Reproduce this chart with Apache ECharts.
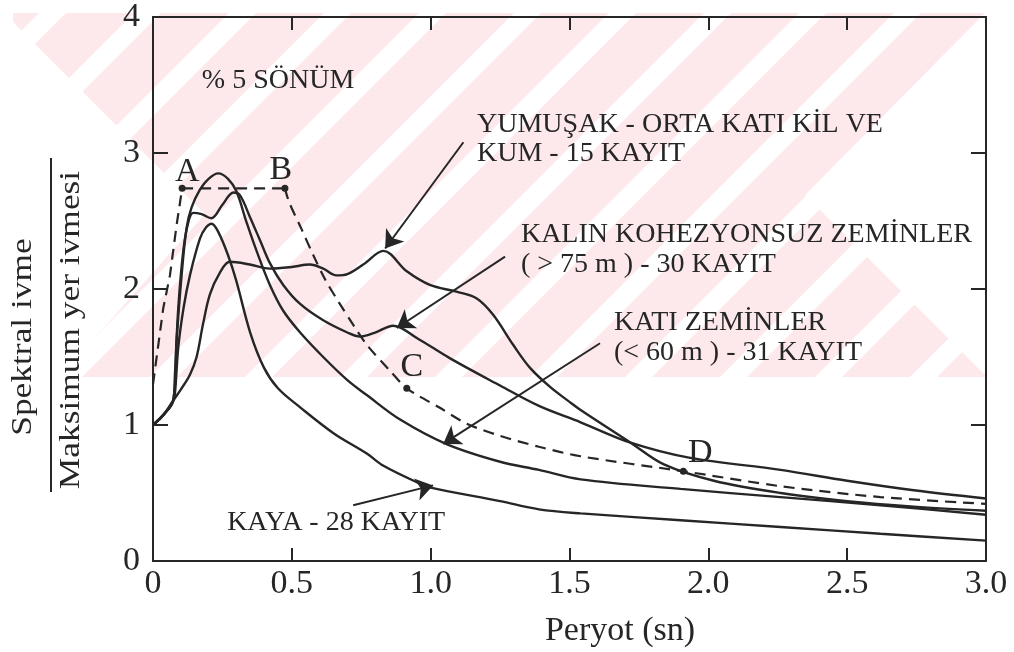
<!DOCTYPE html>
<html lang="tr">
<head>
<meta charset="utf-8">
<title>Normalize ivme spektrumları</title>
<script src="https://cdn.jsdelivr.net/npm/echarts@6/dist/echarts.min.js"></script>
<style>
  html, body { margin: 0; padding: 0; background: #fff; }
  #chart { width: 1014px; height: 652px; }
</style>
</head>
<body>
<div id="chart"></div>
<script>
// Periyot (sn) - normalize spektral ivme çiftleri, her zemin sınıfı için ayrı dizi
const kayaCurve = [[0,1.0],[0.04,1.08],[0.073,1.18],[0.079,1.23],[0.091,1.57],[0.11,1.86],[0.133,2.10],[0.169,2.37],[0.19,2.45],[0.211,2.48],[0.235,2.42],[0.27,2.25],[0.30,2.06],[0.35,1.68],[0.40,1.42],[0.45,1.27],[0.53,1.13],[0.65,0.94],[0.77,0.79],[0.83,0.70],[0.96,0.57],[1.0,0.54],[1.25,0.44],[1.39,0.38],[1.54,0.35],[1.9,0.30],[2.26,0.25],[2.62,0.20],[3.0,0.15]];
const katiCurve = [[0,1.0],[0.04,1.08],[0.073,1.18],[0.085,1.62],[0.103,2.10],[0.121,2.45],[0.139,2.60],[0.169,2.73],[0.20,2.81],[0.235,2.85],[0.27,2.81],[0.30,2.72],[0.337,2.49],[0.373,2.28],[0.421,2.03],[0.469,1.84],[0.53,1.68],[0.613,1.50],[0.70,1.33],[0.77,1.22],[0.89,1.04],[1.057,0.86],[1.25,0.73],[1.39,0.67],[1.54,0.60],[1.9,0.53],[2.26,0.47],[2.62,0.41],[3.0,0.34]];
const kalinCurve = [[0,1.0],[0.04,1.08],[0.073,1.18],[0.079,1.37],[0.091,1.86],[0.109,2.28],[0.127,2.49],[0.145,2.56],[0.175,2.55],[0.21,2.52],[0.25,2.62],[0.29,2.71],[0.313,2.69],[0.349,2.53],[0.385,2.36],[0.421,2.19],[0.469,2.03],[0.53,1.89],[0.613,1.77],[0.70,1.68],[0.745,1.65],[0.80,1.68],[0.865,1.73],[0.95,1.64],[1.07,1.49],[1.25,1.29],[1.39,1.14],[1.54,1.02],[1.72,0.87],[1.93,0.76],[2.26,0.67],[2.5,0.59],[2.74,0.52],[3.0,0.46]];
const yumusakCurve = [[0,1.0],[0.04,1.08],[0.073,1.18],[0.10,1.26],[0.133,1.37],[0.157,1.50],[0.18,1.74],[0.205,1.96],[0.241,2.12],[0.277,2.20],[0.349,2.18],[0.421,2.15],[0.493,2.16],[0.565,2.18],[0.613,2.15],[0.66,2.10],[0.70,2.11],[0.757,2.18],[0.83,2.28],[0.914,2.13],[0.997,2.03],[1.093,1.98],[1.166,1.93],[1.225,1.81],[1.297,1.59],[1.358,1.42],[1.43,1.28],[1.50,1.17],[1.54,1.11],[1.72,0.87],[1.84,0.71],[2.02,0.59],[2.26,0.50],[2.5,0.44],[2.74,0.40],[3.0,0.37]];

// Kesikli tasarım eğrisi: yükselen kol + A-B platosu, ardından B-C-D azalan kol
const tasarimRise = [[0,1.3],[0.037,1.86],[0.061,2.10],[0.085,2.47],[0.105,2.74],[0.475,2.74]];
const tasarimFall = [[0.475,2.74],[0.49,2.64],[0.535,2.44],[0.577,2.25],[0.62,2.07],[0.67,1.90],[0.72,1.74],[0.77,1.59],[0.853,1.40],[0.914,1.27],[1.03,1.13],[1.13,1.01],[1.25,0.92],[1.39,0.84],[1.54,0.77],[1.91,0.66],[2.26,0.55],[2.62,0.47],[3.0,0.42]];

// Köşe noktaları
const cornerNames = ['A','B','C','D'];
const cornerPoints = [[0.105,2.74],[0.475,2.74],[0.914,1.27],[1.91,0.66]];

// Eksen etiketleri
const xTickLabels = ['0','0.5','1.0','1.5','2.0','2.5','3.0'];
const yTickLabels = ['0','1','2','3','4'];

// Açıklama metinleri
const dampingText = '% 5 SÖNÜM';
const yumusakText = ['YUMUŞAK - ORTA KATI KİL VE', 'KUM - 15 KAYIT'];
const kalinText = ['KALIN KOHEZYONSUZ ZEMİNLER', '( > 75 m ) - 30 KAYIT'];
const katiText = ['KATI ZEMİNLER', '(< 60 m ) - 31 KAYIT'];
const kayaText = ['KAYA - 28 KAYIT'];
const xTitle = 'Peryot (sn)';
const yTitleTop = 'Spektral ivme';
const yTitleBottom = 'Maksimum yer ivmesi';

// Yerleşim (veri koordinatlarında metin çapaları, ok kuyruk/uçları, harf kaydırmaları)
const textAnchors = [
  { lines: [dampingText], at: [0.176, 3.53], lh: 28 },
  { lines: yumusakText, at: [1.167, 3.10], lh: 29 },
  { lines: kalinText, at: [1.325, 2.29], lh: 30 },
  { lines: katiText, at: [1.66, 1.64], lh: 30 },
  { lines: kayaText, at: [0.267, 0.285], lh: 28 }
];
const arrowLines = [
  [[1.118, 3.079], [0.836, 2.298]],
  [[1.268, 2.238], [0.878, 1.713]],
  [[1.61, 1.601], [1.045, 0.861]],
  [[0.721, 0.41], [1.009, 0.556]]
];
const cornerLabelOffsets = [[5,-16],[-4,-18],[5,-21],[17,-18]];

const INK = '#262626';
const SERIF = '"Liberation Serif", "DejaVu Serif", serif';
const TINT = '#fde9ec';

const chart = echarts.init(document.getElementById('chart'), null, { renderer: 'canvas' });

function curveSeries(name, data) {
  return {
    name, type: 'line', data, showSymbol: false, smooth: 0.35,
    lineStyle: { color: INK, width: 2.4 }, z: 3, silent: true
  };
}

const axisLineStyle = { color: INK, width: 2 };

const option = {
  backgroundColor: '#ffffff',
  animation: false,
  grid: { left: 153, right: 28, top: 14, bottom: 91 },
  xAxis: [
    {
      type: 'value', min: 0, max: 3, interval: 0.5, position: 'bottom',
      axisLine: { show: true, onZero: false, lineStyle: axisLineStyle },
      axisTick: { show: true, inside: true, length: 13, lineStyle: axisLineStyle },
      axisLabel: {
        formatter: v => xTickLabels[Math.round(v / 0.5)],
        fontFamily: SERIF, fontSize: 34, color: INK, margin: 6, lineHeight: 34
      },
      splitLine: { show: false }
    },
    {
      type: 'value', min: 0, max: 3, interval: 0.5, position: 'top',
      axisLine: { show: true, onZero: false, lineStyle: axisLineStyle },
      axisTick: { show: true, inside: true, length: 13, lineStyle: axisLineStyle },
      axisLabel: { show: false }, splitLine: { show: false }
    }
  ],
  yAxis: [
    {
      type: 'value', min: 0, max: 4, interval: 1, position: 'left',
      axisLine: { show: true, onZero: false, lineStyle: axisLineStyle },
      axisTick: { show: true, inside: true, length: 15, lineStyle: axisLineStyle },
      axisLabel: {
        formatter: v => yTickLabels[Math.round(v)],
        fontFamily: SERIF, fontSize: 34, color: INK, margin: 13
      },
      splitLine: { show: false }
    },
    {
      type: 'value', min: 0, max: 4, interval: 1, position: 'right',
      axisLine: { show: true, onZero: false, lineStyle: axisLineStyle },
      axisTick: { show: true, inside: true, length: 15, lineStyle: axisLineStyle },
      axisLabel: { show: false }, splitLine: { show: false }
    }
  ],
  series: [
    Object.assign(curveSeries('KAYA', kayaCurve), {
      markLine: {
        silent: true, animation: false,
        symbol: ['none', 'arrow'], symbolSize: 17,
        lineStyle: { color: INK, width: 2, type: 'solid' },
        label: { show: false },
        emphasis: { disabled: true },
        data: arrowLines.map(([a, b]) => [{ coord: a }, { coord: b }])
      }
    }),
    curveSeries('KATI ZEMİNLER', katiCurve),
    curveSeries('KALIN KOHEZYONSUZ ZEMİNLER', kalinCurve),
    curveSeries('YUMUŞAK - ORTA KATI KİL VE KUM', yumusakCurve),
    {
      name: 'Tasarım (yükselen)', type: 'line', data: tasarimRise, showSymbol: false,
      smooth: false, lineStyle: { color: INK, width: 2.2, type: [11, 7] }, z: 4, silent: true
    },
    {
      name: 'Tasarım (azalan)', type: 'line', data: tasarimFall, showSymbol: false,
      smooth: 0.3,
      lineStyle: { color: INK, width: 2.2, type: [11, 7] }, z: 4, silent: true
    },
    {
      name: 'Köşeler', type: 'scatter', symbol: 'circle', symbolSize: 7, z: 5, silent: true,
      itemStyle: { color: INK, opacity: 1 },
      data: cornerPoints
    }
  ]
};

chart.setOption(option);

const graphics = [];

// Sayfa üst bandındaki soluk pembe filigran: zemin, beyaz kesitler ve eğik beyaz şeritler
const bandTop = 13, bandBottom = 377;
graphics.push({
  type: 'rect', silent: true, z: -10,
  shape: { x: 13, y: bandTop, width: 997, height: bandBottom - bandTop },
  style: { fill: TINT }
});
for (let x0 = -325; x0 <= 1010; x0 += 95) {
  const rise = bandBottom - bandTop;
  graphics.push({
    type: 'polygon', silent: true, z: -9,
    shape: { points: [[x0, bandBottom], [x0 + 27, bandBottom], [x0 + 27 + rise, bandTop], [x0 + rise, bandTop]] },
    style: { fill: '#ffffff' }
  });
}
graphics.push({
  type: 'polygon', silent: true, z: -9,
  shape: { points: [[13, 22], [205, 214], [60, 377], [13, 377]] },
  style: { fill: '#ffffff' }
});
graphics.push({
  type: 'polygon', silent: true, z: -9,
  shape: { points: [[805, 195], [985, 13], [1014, 13], [1014, 377], [987, 377]] },
  style: { fill: '#ffffff' }
});

// Metinleri veri koordinatlarından piksele çevirerek yerleştir
const textStyleBase = {
  fill: INK, fontFamily: SERIF,
  textAlign: 'left', align: 'left', textVerticalAlign: 'middle', verticalAlign: 'middle'
};
textAnchors.forEach(t => {
  const [px, py] = chart.convertToPixel({ gridIndex: 0 }, t.at);
  graphics.push({
    type: 'text', x: px, y: py, silent: true, z: 10,
    style: Object.assign({}, textStyleBase, { text: t.lines.join('\n'), fontSize: 28, lineHeight: t.lh })
  });
});

// Köşe harfleri (A, B, C, D)
cornerPoints.forEach((p, i) => {
  const [px, py] = chart.convertToPixel({ gridIndex: 0 }, p);
  graphics.push({
    type: 'text', x: px + cornerLabelOffsets[i][0], y: py + cornerLabelOffsets[i][1], silent: true, z: 10,
    style: Object.assign({}, textStyleBase, {
      text: cornerNames[i], fontSize: 34, textAlign: 'center', align: 'center'
    })
  });
});

// Eksen başlıkları
const centered = { textAlign: 'center', align: 'center' };
graphics.push({
  type: 'text', x: 620, y: 631, silent: true,
  style: Object.assign({}, textStyleBase, centered, { text: xTitle, fontSize: 34 })
});
graphics.push({
  type: 'text', x: 23, y: 337, rotation: Math.PI / 2, scaleX: 1.22, silent: true,
  style: Object.assign({}, textStyleBase, centered, { text: yTitleTop, fontSize: 29 })
});
graphics.push({
  type: 'line', silent: true,
  shape: { x1: 51, y1: 158, x2: 51, y2: 492 },
  style: { stroke: INK, lineWidth: 2 }
});
graphics.push({
  type: 'text', x: 71, y: 330, rotation: Math.PI / 2, scaleX: 1.22, silent: true,
  style: Object.assign({}, textStyleBase, centered, { text: yTitleBottom, fontSize: 29 })
});

chart.setOption({ graphic: graphics });
</script>
</body>
</html>
